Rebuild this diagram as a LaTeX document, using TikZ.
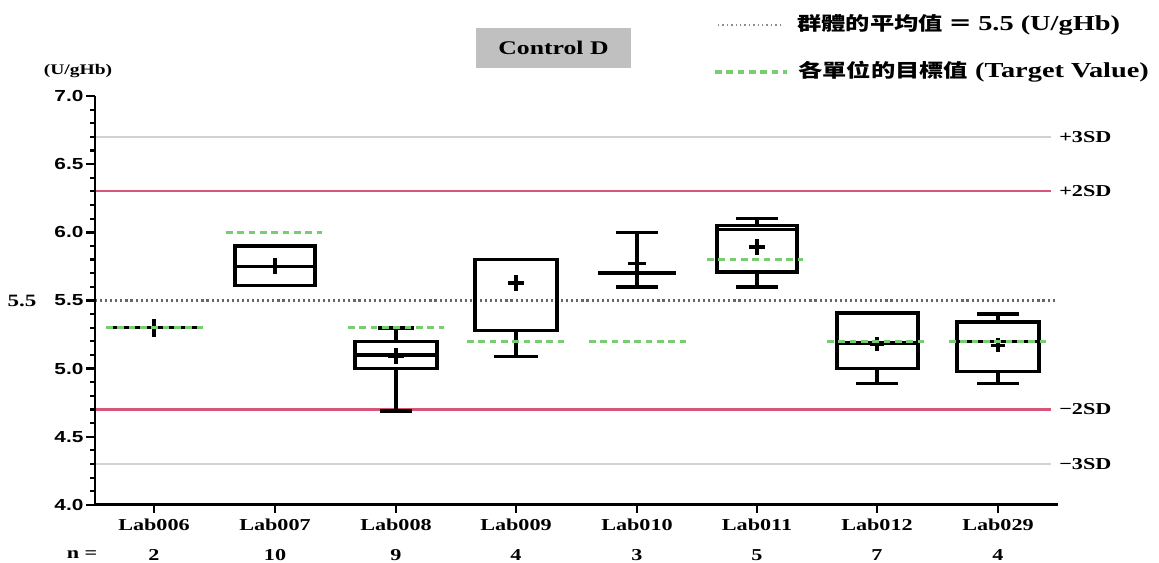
\documentclass[tikz,border=0pt]{standalone}
\usepackage{fontspec}
\setmainfont{Liberation Serif}[FakeStretch=1.33]
\newfontfamily\ticksf{Liberation Sans}[FakeStretch=1.3]
\newfontfamily\cjk{Noto Sans CJK TC}[FakeStretch=1.3]
\definecolor{sdred}{RGB}{215,85,120}
\definecolor{sdgray}{RGB}{210,210,210}
\definecolor{tgtgreen}{RGB}{120,205,115}
\definecolor{titlegray}{RGB}{192,192,192}

\begin{document}
\begin{tikzpicture}
        [
            x=0.75pt, y=0.75pt,
            declare function={vy(\v)=136.3*\v-488.1;},
            boxline/.style={draw, line width=2.7pt, line join=miter},
            axisline/.style={draw, line width=2.2pt, line join=miter},
            targetline/.style={draw=tgtgreen, line width=2.4pt, dash pattern=on 5pt off 3.5pt},
            meanline/.style={draw=black!60, line width=2pt, dash pattern=on 1.6pt off 2.2pt},
            legenddots/.style={draw=black!45, line width=1.4pt, dash pattern=on 1.1pt off 2.2pt},
            sdtwo/.style={draw=sdred, line width=1.6pt},
            sdthree/.style={draw=sdgray, line width=1.3pt},
            ticklabel/.style={font=\ticksf\bfseries\fontsize{12}{14}\selectfont, anchor=east, inner sep=1pt},
            labname/.style={font=\bfseries\fontsize{12.5}{14}\selectfont, inner sep=1pt},
            sdlabel/.style={font=\bfseries\fontsize{12.5}{14}\selectfont, anchor=west, inner sep=0pt},
            legendtext/.style={font=\bfseries\fontsize{16}{18}\selectfont, anchor=west, inner sep=0pt}
        ]
        \useasboundingbox (0,0) rectangle (1159,562);

        % reference lines
        \draw[sdthree] (95,{vy(6.7)}) -- (1051,{vy(6.7)});
        \draw[sdtwo] (95,{vy(6.3)}) -- (1051,{vy(6.3)});
        \draw[sdtwo] (95,{vy(4.7)}) -- (1051,{vy(4.7)});
        \draw[sdthree] (95,{vy(4.3)}) -- (1051,{vy(4.3)});
        \draw[meanline] (95,{vy(5.5)}) -- (1056,{vy(5.5)});

        \node[sdlabel] (plus3) at (1059,{vy(6.7)}) {+3SD};
        \node[sdlabel] (plus2) at (1059,{vy(6.3)}) {+2SD};
        \node[sdlabel] (minus2) at (1059,{vy(4.7)}) {−2SD};
        \node[sdlabel] (minus3) at (1059,{vy(4.3)}) {−3SD};

        % Lab006
        \draw[line width=2pt] (108,{vy(5.3)}) -- (197,{vy(5.3)});
        \draw[boxline] (154,{vy(5.3)-9}) -- (154,{vy(5.3)+9});

        % Lab007
        \draw[boxline] (235,{vy(5.61)}) rectangle (315,{vy(5.90)});
        \draw[boxline] (235,{vy(5.75)}) -- (315,{vy(5.75)});
        \draw[boxline] (275,{vy(5.75)-8}) -- (275,{vy(5.75)+8});

        % Lab008
        \draw[boxline] (355,{vy(5.0)}) rectangle (437,{vy(5.2)});
        \draw[boxline] (355,{vy(5.1)}) -- (437,{vy(5.1)});
        \draw[boxline] (396,{vy(5.2)}) -- (396,{vy(5.3)});
        \draw[boxline] (378,{vy(5.3)}) -- (414,{vy(5.3)});
        \draw[boxline] (396,{vy(5.0)}) -- (396,{vy(4.69)});
        \draw[boxline] (380,{vy(4.69)}) -- (412,{vy(4.69)});
        \draw[boxline] (388,{vy(5.09)}) -- (404,{vy(5.09)});
        \draw[boxline] (396,{vy(5.09)-8}) -- (396,{vy(5.09)+8});

        % Lab009
        \draw[boxline] (475,{vy(5.28)}) rectangle (557,{vy(5.8)});
        \draw[boxline] (516,{vy(5.28)}) -- (516,{vy(5.09)});
        \draw[boxline] (494,{vy(5.09)}) -- (538,{vy(5.09)});
        \draw[boxline] (508,{vy(5.63)}) -- (524,{vy(5.63)});
        \draw[boxline] (516,{vy(5.63)-8}) -- (516,{vy(5.63)+8});

        % Lab010
        \draw[boxline] (637,{vy(5.6)}) -- (637,{vy(6.0)});
        \draw[boxline] (616,{vy(6.0)}) -- (658,{vy(6.0)});
        \draw[boxline] (616,{vy(5.6)}) -- (658,{vy(5.6)});
        \draw[boxline] (598,{vy(5.7)}) -- (676,{vy(5.7)});
        \draw[boxline] (628,{vy(5.77)}) -- (646,{vy(5.77)});

        % Lab011
        \draw[boxline] (717,{vy(5.71)}) rectangle (797,{vy(6.05)});
        \draw[boxline] (717,{vy(6.02)}) -- (797,{vy(6.02)});
        \draw[boxline] (757,{vy(6.05)}) -- (757,{vy(6.10)});
        \draw[boxline] (736,{vy(6.10)}) -- (778,{vy(6.10)});
        \draw[boxline] (757,{vy(5.71)}) -- (757,{vy(5.6)});
        \draw[boxline] (736,{vy(5.6)}) -- (778,{vy(5.6)});
        \draw[boxline] (749,{vy(5.89)}) -- (765,{vy(5.89)});
        \draw[boxline] (757,{vy(5.89)-8}) -- (757,{vy(5.89)+8});

        % Lab012
        \draw[boxline] (837,{vy(5.0)}) rectangle (918,{vy(5.41)});
        \draw[boxline] (837,{vy(5.19)}) -- (918,{vy(5.19)});
        \draw[boxline] (877,{vy(5.0)}) -- (877,{vy(4.89)});
        \draw[boxline] (856,{vy(4.89)}) -- (898,{vy(4.89)});
        \draw[boxline] (870,{vy(5.18)}) -- (884,{vy(5.18)});
        \draw[boxline] (877,{vy(5.18)-7}) -- (877,{vy(5.18)+7});

        % Lab029
        \draw[boxline] (957,{vy(4.98)}) rectangle (1039,{vy(5.34)});
        \draw[boxline] (957,{vy(5.2)}) -- (1039,{vy(5.2)});
        \draw[boxline] (998,{vy(5.34)}) -- (998,{vy(5.40)});
        \draw[boxline] (977,{vy(5.40)}) -- (1019,{vy(5.40)});
        \draw[boxline] (998,{vy(4.98)}) -- (998,{vy(4.89)});
        \draw[boxline] (977,{vy(4.89)}) -- (1019,{vy(4.89)});
        \draw[boxline] (991,{vy(5.17)}) -- (1005,{vy(5.17)});
        \draw[boxline] (998,{vy(5.17)-7}) -- (998,{vy(5.17)+7});

        % target values
        \draw[targetline] (106,{vy(5.3)}) -- (203,{vy(5.3)});
        \draw[targetline] (226,{vy(6.0)}) -- (322,{vy(6.0)});
        \draw[targetline] (348,{vy(5.3)}) -- (444,{vy(5.3)});
        \draw[targetline] (467,{vy(5.2)}) -- (564,{vy(5.2)});
        \draw[targetline] (589,{vy(5.2)}) -- (686,{vy(5.2)});
        \draw[targetline] (707,{vy(5.8)}) -- (803,{vy(5.8)});
        \draw[targetline] (827,{vy(5.2)}) -- (924,{vy(5.2)});
        \draw[targetline] (949,{vy(5.2)}) -- (1047,{vy(5.2)});

        % axes
        \foreach \t in {40,...,70}
            \draw[line width=1.6pt] (95,{vy(\t/10)}) -- ++(-5,0);
        \foreach \t in {4.0,4.5,5.0,5.5,6.0,6.5,7.0} {
            \draw[line width=1.8pt] (95,{vy(\t)}) -- ++(-9,0);
            \node[ticklabel] (tick\t) at (85,{vy(\t)}) {\t};
        }
        \draw[axisline] (95,{vy(7.0)}) -- (95,{vy(4.0)}) -- (1058,{vy(4.0)});
        \foreach \c/\lab/\n in {154/006/2, 275/007/10, 396/008/9, 516/009/4,
                               637/010/3, 757/011/5, 877/012/7, 998/029/4} {
            \draw[axisline] (\c,{vy(4.0)}) -- ++(0,-8);
            \node[labname] (lab\lab) at (\c,37) {Lab\lab};
            \node[labname] (n\lab) at (\c,7) {\n};
        }
        \node[labname] (nlabel) at (82,7) {n =};
        \node[font=\bfseries\fontsize{11}{13}\selectfont] (unit) at (78,491) {(U/gHb)};
        \node[font=\bfseries\fontsize{13}{15}\selectfont] (meanvalue) at (22,{vy(5.5)}) {5.5};

        % title and legend
        \node[fill=titlegray, minimum width=116pt, minimum height=30pt,
              font=\bfseries\fontsize{14.5}{16}\selectfont] (title) at (553.5,514) {Control D};
        \draw[legenddots] (718,537) -- (782,537);
        \node[legendtext] (legmean) at (797,537)
            {{\cjk\fontsize{14}{16}\selectfont 群體的平均值 ＝ }5.5 (U/gHb)};
        \draw[targetline] (715,490) -- (787,490);
        \node[legendtext] (legtarget) at (798,490)
            {{\cjk\fontsize{14}{16}\selectfont 各單位的目標值} (Target Value)};
\end{tikzpicture}
\end{document}
